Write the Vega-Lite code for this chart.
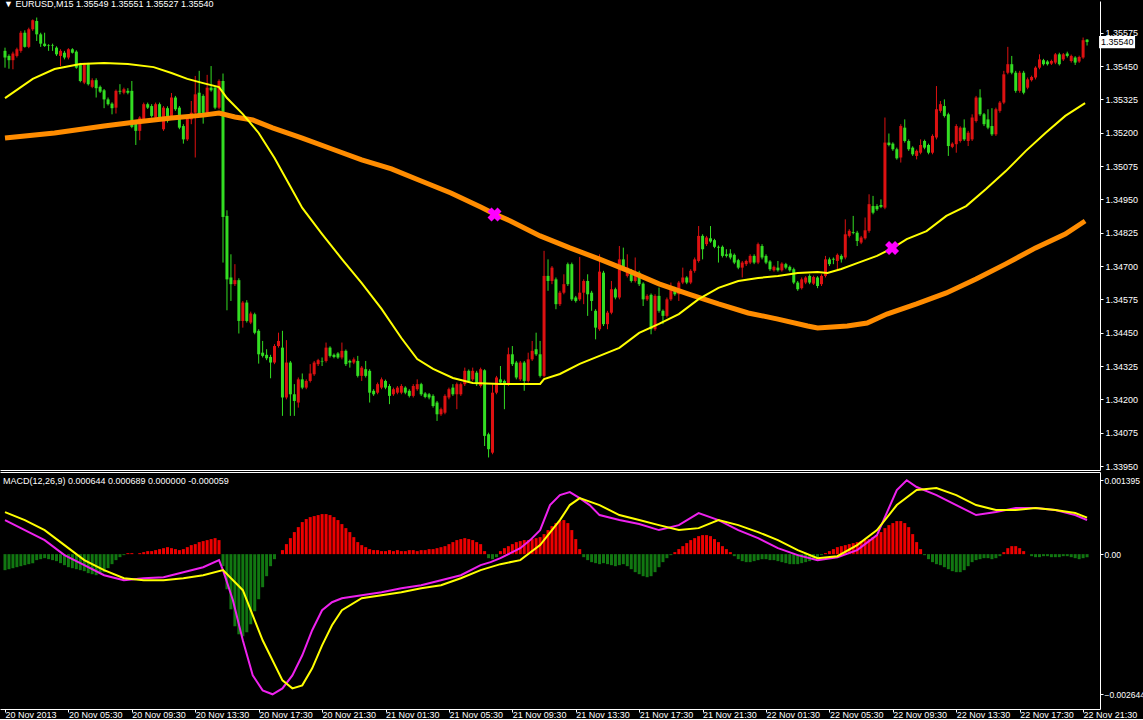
{
"$schema":"https://vega.github.io/schema/vega-lite/v6.json",
"background":"black",
"padding":0,
"spacing":0,
"config":{"view":{"stroke":null},"font":"Liberation Sans","axis":{"labelColor":"white","domainColor":"white","tickColor":"white","labelFont":"Liberation Sans","labelFontSize":9,"grid":false,"title":null,"labelOverlap":false,"labelFlush":false}},
"datasets":{
"c":[
{"i":0,"o":1.35507,"h":1.35519,"l":1.35444,"c":1.35482},{"i":1,"o":1.35488,"h":1.35494,"l":1.3544,"c":1.35472},{"i":2,"o":1.35472,"h":1.35504,"l":1.35438,"c":1.35497},{"i":3,"o":1.35488,"h":1.35519,"l":1.35482,"c":1.35513},{"i":4,"o":1.35507,"h":1.35582,"l":1.355,"c":1.35575},{"i":5,"o":1.35575,"h":1.35584,"l":1.35519,"c":1.35522},{"i":6,"o":1.35522,"h":1.35594,"l":1.35517,"c":1.35588},{"i":7,"o":1.35588,"h":1.35625,"l":1.35582,"c":1.35622},{"i":8,"o":1.35619,"h":1.35632,"l":1.35544,"c":1.35569},{"i":9,"o":1.35569,"h":1.35575,"l":1.35522,"c":1.35534},
{"i":10,"o":1.35534,"h":1.35575,"l":1.35522,"c":1.35525},{"i":11,"o":1.35529,"h":1.35532,"l":1.35507,"c":1.35527},{"i":12,"o":1.35529,"h":1.35534,"l":1.35507,"c":1.35527},{"i":13,"o":1.35519,"h":1.35524,"l":1.35488,"c":1.35494},{"i":14,"o":1.35488,"h":1.35513,"l":1.3545,"c":1.35507},{"i":15,"o":1.355,"h":1.35507,"l":1.35475,"c":1.35482},{"i":16,"o":1.35482,"h":1.35517,"l":1.35475,"c":1.35513},{"i":17,"o":1.35513,"h":1.35517,"l":1.35497,"c":1.355},{"i":18,"o":1.35504,"h":1.35509,"l":1.3544,"c":1.35444},{"i":19,"o":1.35457,"h":1.35462,"l":1.35389,"c":1.35394},
{"i":20,"o":1.35388,"h":1.35462,"l":1.35382,"c":1.35457},{"i":21,"o":1.35457,"h":1.35462,"l":1.35377,"c":1.35382},{"i":22,"o":1.35372,"h":1.35404,"l":1.35367,"c":1.35397},{"i":23,"o":1.35397,"h":1.35404,"l":1.35332,"c":1.35367},{"i":24,"o":1.35372,"h":1.35377,"l":1.35349,"c":1.35354},{"i":25,"o":1.35359,"h":1.35364,"l":1.35292,"c":1.35325},{"i":26,"o":1.35325,"h":1.35332,"l":1.35302,"c":1.35307},{"i":27,"o":1.35309,"h":1.35314,"l":1.35269,"c":1.35292},{"i":28,"o":1.35294,"h":1.35362,"l":1.35272,"c":1.35357},{"i":29,"o":1.35357,"h":1.35382,"l":1.35344,"c":1.35354},
{"i":30,"o":1.3535,"h":1.35369,"l":1.35344,"c":1.35363},{"i":31,"o":1.35357,"h":1.35367,"l":1.35344,"c":1.3535},{"i":32,"o":1.35357,"h":1.35394,"l":1.35217,"c":1.35222},{"i":33,"o":1.35234,"h":1.35239,"l":1.35154,"c":1.35207},{"i":34,"o":1.35207,"h":1.35262,"l":1.35172,"c":1.35257},{"i":35,"o":1.35244,"h":1.35313,"l":1.35239,"c":1.35307},{"i":36,"o":1.35307,"h":1.35313,"l":1.35289,"c":1.35294},{"i":37,"o":1.353,"h":1.35307,"l":1.35257,"c":1.35263},{"i":38,"o":1.35257,"h":1.35313,"l":1.3525,"c":1.35307},{"i":39,"o":1.35307,"h":1.35313,"l":1.35244,"c":1.3525},
{"i":40,"o":1.35213,"h":1.353,"l":1.35207,"c":1.35294},{"i":41,"o":1.35292,"h":1.35299,"l":1.35238,"c":1.35244},{"i":42,"o":1.35263,"h":1.35349,"l":1.35257,"c":1.35332},{"i":43,"o":1.35332,"h":1.35338,"l":1.35282,"c":1.35288},{"i":44,"o":1.35294,"h":1.353,"l":1.35213,"c":1.35219},{"i":45,"o":1.35225,"h":1.35232,"l":1.35159,"c":1.35175},{"i":46,"o":1.35175,"h":1.35263,"l":1.35169,"c":1.35257},{"i":47,"o":1.3525,"h":1.35319,"l":1.35232,"c":1.35275},{"i":48,"o":1.35275,"h":1.35413,"l":1.35107,"c":1.35344},{"i":49,"o":1.3535,"h":1.35432,"l":1.35263,"c":1.35269},
{"i":50,"o":1.35338,"h":1.35344,"l":1.35234,"c":1.35269},{"i":51,"o":1.35269,"h":1.35417,"l":1.35263,"c":1.35369},{"i":52,"o":1.35369,"h":1.3545,"l":1.35354,"c":1.35359},{"i":53,"o":1.35369,"h":1.35375,"l":1.35288,"c":1.35294},{"i":54,"o":1.35294,"h":1.354,"l":1.35288,"c":1.35394},{"i":55,"o":1.35394,"h":1.35422,"l":1.34713,"c":1.34884},{"i":56,"o":1.34888,"h":1.34909,"l":1.34534,"c":1.3465},{"i":57,"o":1.34657,"h":1.34744,"l":1.34569,"c":1.34632},{"i":58,"o":1.34632,"h":1.34707,"l":1.34625,"c":1.34647},{"i":59,"o":1.34647,"h":1.34654,"l":1.34447,"c":1.34494},
{"i":60,"o":1.34494,"h":1.34569,"l":1.34469,"c":1.34563},{"i":61,"o":1.34563,"h":1.34572,"l":1.34488,"c":1.34494},{"i":62,"o":1.34488,"h":1.34529,"l":1.34482,"c":1.34522},{"i":63,"o":1.34519,"h":1.34525,"l":1.34444,"c":1.3445},{"i":64,"o":1.34457,"h":1.34463,"l":1.34334,"c":1.34369},{"i":65,"o":1.34375,"h":1.34419,"l":1.34357,"c":1.34363},{"i":66,"o":1.34367,"h":1.34388,"l":1.34347,"c":1.34354},{"i":67,"o":1.34359,"h":1.34367,"l":1.34279,"c":1.34338},{"i":68,"o":1.34338,"h":1.34407,"l":1.34332,"c":1.344},{"i":69,"o":1.344,"h":1.3445,"l":1.34394,"c":1.34419},
{"i":70,"o":1.34394,"h":1.34457,"l":1.34138,"c":1.34207},{"i":71,"o":1.34207,"h":1.34422,"l":1.342,"c":1.34338},{"i":72,"o":1.34338,"h":1.34344,"l":1.34138,"c":1.34219},{"i":73,"o":1.34219,"h":1.34257,"l":1.34138,"c":1.34194},{"i":74,"o":1.34188,"h":1.34282,"l":1.34169,"c":1.34275},{"i":75,"o":1.34275,"h":1.34297,"l":1.34238,"c":1.34244},{"i":76,"o":1.34244,"h":1.34275,"l":1.34238,"c":1.34269},{"i":77,"o":1.34269,"h":1.34332,"l":1.34263,"c":1.34297},{"i":78,"o":1.34294,"h":1.34344,"l":1.34288,"c":1.34338},{"i":79,"o":1.34332,"h":1.34352,"l":1.34325,"c":1.34347},
{"i":80,"o":1.34344,"h":1.34357,"l":1.34325,"c":1.34342},{"i":81,"o":1.34344,"h":1.34413,"l":1.34338,"c":1.34394},{"i":82,"o":1.34394,"h":1.34399,"l":1.34357,"c":1.34363},{"i":83,"o":1.34367,"h":1.34372,"l":1.34354,"c":1.34359},{"i":84,"o":1.34372,"h":1.34377,"l":1.34352,"c":1.34357},{"i":85,"o":1.34357,"h":1.34413,"l":1.3435,"c":1.34382},{"i":86,"o":1.34382,"h":1.34387,"l":1.34325,"c":1.34332},{"i":87,"o":1.34344,"h":1.34349,"l":1.34319,"c":1.34338},{"i":88,"o":1.34338,"h":1.34357,"l":1.34332,"c":1.3435},{"i":89,"o":1.34344,"h":1.34363,"l":1.34282,"c":1.34288},
{"i":90,"o":1.34288,"h":1.34325,"l":1.34269,"c":1.34319},{"i":91,"o":1.34313,"h":1.34344,"l":1.34282,"c":1.34288},{"i":92,"o":1.34307,"h":1.34313,"l":1.34188,"c":1.34225},{"i":93,"o":1.34232,"h":1.34238,"l":1.34213,"c":1.34219},{"i":94,"o":1.34225,"h":1.34263,"l":1.34219,"c":1.34257},{"i":95,"o":1.34244,"h":1.34282,"l":1.34238,"c":1.34275},{"i":96,"o":1.34269,"h":1.34274,"l":1.34238,"c":1.34244},{"i":97,"o":1.3425,"h":1.34257,"l":1.34182,"c":1.34213},{"i":98,"o":1.34219,"h":1.34244,"l":1.34213,"c":1.34238},{"i":99,"o":1.34225,"h":1.3425,"l":1.34219,"c":1.34244},
{"i":100,"o":1.34225,"h":1.34257,"l":1.34219,"c":1.3425},{"i":101,"o":1.34244,"h":1.34249,"l":1.34219,"c":1.34225},{"i":102,"o":1.34232,"h":1.34238,"l":1.34207,"c":1.34213},{"i":103,"o":1.34213,"h":1.34257,"l":1.34207,"c":1.3425},{"i":104,"o":1.34238,"h":1.34275,"l":1.34232,"c":1.34257},{"i":105,"o":1.34257,"h":1.34262,"l":1.34213,"c":1.34219},{"i":106,"o":1.34222,"h":1.34227,"l":1.34204,"c":1.34209},{"i":107,"o":1.34219,"h":1.34224,"l":1.342,"c":1.34207},{"i":108,"o":1.34213,"h":1.34219,"l":1.34169,"c":1.34175},{"i":109,"o":1.34188,"h":1.34194,"l":1.34119,"c":1.34144},
{"i":110,"o":1.34144,"h":1.34169,"l":1.34138,"c":1.34163},{"i":111,"o":1.3415,"h":1.34219,"l":1.34144,"c":1.34213},{"i":112,"o":1.34207,"h":1.34244,"l":1.342,"c":1.34238},{"i":113,"o":1.34244,"h":1.34257,"l":1.34213,"c":1.34219},{"i":114,"o":1.34219,"h":1.34263,"l":1.34163,"c":1.34257},{"i":115,"o":1.34219,"h":1.34263,"l":1.34213,"c":1.34257},{"i":116,"o":1.34257,"h":1.34319,"l":1.3425,"c":1.34307},{"i":117,"o":1.34307,"h":1.34312,"l":1.34263,"c":1.34269},{"i":118,"o":1.34275,"h":1.34319,"l":1.34269,"c":1.34307},{"i":119,"o":1.343,"h":1.34307,"l":1.3425,"c":1.34257},
{"i":120,"o":1.3425,"h":1.34319,"l":1.34244,"c":1.34313},{"i":121,"o":1.34309,"h":1.34313,"l":1.34025,"c":1.34063},{"i":122,"o":1.34069,"h":1.34075,"l":1.33982,"c":1.34013},{"i":123,"o":1.34,"h":1.34257,"l":1.33994,"c":1.34225},{"i":124,"o":1.34225,"h":1.34288,"l":1.34219,"c":1.34282},{"i":125,"o":1.34275,"h":1.34325,"l":1.34257,"c":1.34263},{"i":126,"o":1.34269,"h":1.34274,"l":1.34163,"c":1.34257},{"i":127,"o":1.34257,"h":1.34394,"l":1.3425,"c":1.34369},{"i":128,"o":1.34369,"h":1.344,"l":1.34325,"c":1.34332},{"i":129,"o":1.34338,"h":1.34344,"l":1.34275,"c":1.34282},
{"i":130,"o":1.34275,"h":1.34344,"l":1.34269,"c":1.34338},{"i":131,"o":1.34338,"h":1.34344,"l":1.34232,"c":1.34269},{"i":132,"o":1.34269,"h":1.34375,"l":1.34263,"c":1.3435},{"i":133,"o":1.3435,"h":1.34419,"l":1.34344,"c":1.34382},{"i":134,"o":1.34388,"h":1.3445,"l":1.34363,"c":1.34369},{"i":135,"o":1.34369,"h":1.34419,"l":1.34282,"c":1.34288},{"i":136,"o":1.34288,"h":1.34757,"l":1.34282,"c":1.34663},{"i":137,"o":1.34663,"h":1.34725,"l":1.34607,"c":1.34644},{"i":138,"o":1.34644,"h":1.347,"l":1.34632,"c":1.34694},{"i":139,"o":1.3465,"h":1.34657,"l":1.34538,"c":1.34557},
{"i":140,"o":1.34557,"h":1.34607,"l":1.3455,"c":1.346},{"i":141,"o":1.346,"h":1.34669,"l":1.34594,"c":1.34632},{"i":142,"o":1.34707,"h":1.34713,"l":1.34625,"c":1.34632},{"i":143,"o":1.34707,"h":1.34713,"l":1.34569,"c":1.34575},{"i":144,"o":1.34582,"h":1.34588,"l":1.34563,"c":1.34569},{"i":145,"o":1.34575,"h":1.34734,"l":1.34569,"c":1.346},{"i":146,"o":1.346,"h":1.3465,"l":1.34557,"c":1.34644},{"i":147,"o":1.34644,"h":1.34669,"l":1.34513,"c":1.34594},{"i":148,"o":1.346,"h":1.34607,"l":1.34532,"c":1.34569},{"i":149,"o":1.34532,"h":1.34538,"l":1.34425,"c":1.34469},
{"i":150,"o":1.34463,"h":1.34744,"l":1.34457,"c":1.34679},{"i":151,"o":1.34675,"h":1.34682,"l":1.34475,"c":1.34482},{"i":152,"o":1.34482,"h":1.34532,"l":1.34463,"c":1.34525},{"i":153,"o":1.34525,"h":1.34644,"l":1.34519,"c":1.34613},{"i":154,"o":1.34613,"h":1.34619,"l":1.34575,"c":1.34582},{"i":155,"o":1.34582,"h":1.34775,"l":1.34575,"c":1.34725},{"i":156,"o":1.34725,"h":1.34769,"l":1.34688,"c":1.34694},{"i":157,"o":1.34663,"h":1.34744,"l":1.34657,"c":1.34694},{"i":158,"o":1.34684,"h":1.34689,"l":1.34638,"c":1.34644},{"i":159,"o":1.34644,"h":1.34732,"l":1.34638,"c":1.34675},
{"i":160,"o":1.34675,"h":1.34682,"l":1.34625,"c":1.34632},{"i":161,"o":1.34634,"h":1.34639,"l":1.3455,"c":1.34575},{"i":162,"o":1.34575,"h":1.34594,"l":1.34569,"c":1.34588},{"i":163,"o":1.34592,"h":1.34597,"l":1.34444,"c":1.34463},{"i":164,"o":1.34463,"h":1.34594,"l":1.34457,"c":1.34588},{"i":165,"o":1.34588,"h":1.34619,"l":1.34525,"c":1.34532},{"i":166,"o":1.34532,"h":1.34537,"l":1.34482,"c":1.34513},{"i":167,"o":1.34513,"h":1.34582,"l":1.34507,"c":1.34575},{"i":168,"o":1.34575,"h":1.34638,"l":1.34569,"c":1.34617},{"i":169,"o":1.34617,"h":1.34622,"l":1.34588,"c":1.34594},
{"i":170,"o":1.34594,"h":1.34644,"l":1.34569,"c":1.34638},{"i":171,"o":1.34638,"h":1.34694,"l":1.34632,"c":1.34657},{"i":172,"o":1.34657,"h":1.34662,"l":1.34632,"c":1.34638},{"i":173,"o":1.34638,"h":1.34688,"l":1.34632,"c":1.34682},{"i":174,"o":1.34682,"h":1.34732,"l":1.34675,"c":1.34725},{"i":175,"o":1.34719,"h":1.3485,"l":1.34713,"c":1.34813},{"i":176,"o":1.34813,"h":1.34819,"l":1.34725,"c":1.34763},{"i":177,"o":1.34782,"h":1.34813,"l":1.34775,"c":1.34807},{"i":178,"o":1.34804,"h":1.3485,"l":1.34787,"c":1.34792},{"i":179,"o":1.34797,"h":1.34802,"l":1.34767,"c":1.34772},
{"i":180,"o":1.34772,"h":1.34777,"l":1.34713,"c":1.34769},{"i":181,"o":1.34772,"h":1.34777,"l":1.34732,"c":1.34738},{"i":182,"o":1.34744,"h":1.34763,"l":1.34732,"c":1.34738},{"i":183,"o":1.34747,"h":1.34763,"l":1.34725,"c":1.34732},{"i":184,"o":1.34742,"h":1.34747,"l":1.34707,"c":1.34713},{"i":185,"o":1.34722,"h":1.34727,"l":1.34688,"c":1.34694},{"i":186,"o":1.34694,"h":1.34719,"l":1.34657,"c":1.34713},{"i":187,"o":1.34707,"h":1.34724,"l":1.347,"c":1.34719},{"i":188,"o":1.34713,"h":1.34744,"l":1.34707,"c":1.34738},{"i":189,"o":1.34738,"h":1.34744,"l":1.34707,"c":1.34713},
{"i":190,"o":1.34713,"h":1.34788,"l":1.34707,"c":1.34782},{"i":191,"o":1.34775,"h":1.34782,"l":1.34725,"c":1.34732},{"i":192,"o":1.34738,"h":1.34744,"l":1.34707,"c":1.34713},{"i":193,"o":1.34717,"h":1.34722,"l":1.34682,"c":1.34688},{"i":194,"o":1.34684,"h":1.34702,"l":1.34679,"c":1.34697},{"i":195,"o":1.34694,"h":1.34719,"l":1.34679,"c":1.34684},{"i":196,"o":1.34684,"h":1.34714,"l":1.34679,"c":1.34709},{"i":197,"o":1.34707,"h":1.34712,"l":1.34688,"c":1.34694},{"i":198,"o":1.34697,"h":1.34702,"l":1.34679,"c":1.34684},{"i":199,"o":1.34688,"h":1.34694,"l":1.34632,"c":1.34638},
{"i":200,"o":1.34638,"h":1.34644,"l":1.34607,"c":1.34613},{"i":201,"o":1.34617,"h":1.34657,"l":1.34612,"c":1.3465},{"i":202,"o":1.34638,"h":1.34662,"l":1.34632,"c":1.34657},{"i":203,"o":1.34663,"h":1.34669,"l":1.34632,"c":1.34638},{"i":204,"o":1.34634,"h":1.34664,"l":1.34629,"c":1.34659},{"i":205,"o":1.34657,"h":1.34662,"l":1.34617,"c":1.34625},{"i":206,"o":1.34632,"h":1.34669,"l":1.34625,"c":1.34663},{"i":207,"o":1.34663,"h":1.34738,"l":1.34657,"c":1.34725},{"i":208,"o":1.34725,"h":1.34732,"l":1.347,"c":1.34707},{"i":209,"o":1.34727,"h":1.34732,"l":1.34707,"c":1.34724},
{"i":210,"o":1.34719,"h":1.34747,"l":1.34688,"c":1.34742},{"i":211,"o":1.34738,"h":1.34744,"l":1.34713,"c":1.34725},{"i":212,"o":1.34732,"h":1.34875,"l":1.34725,"c":1.34819},{"i":213,"o":1.34813,"h":1.34838,"l":1.34807,"c":1.34832},{"i":214,"o":1.34827,"h":1.34888,"l":1.34819,"c":1.34824},{"i":215,"o":1.34825,"h":1.34832,"l":1.34775,"c":1.34794},{"i":216,"o":1.34788,"h":1.34813,"l":1.34782,"c":1.34807},{"i":217,"o":1.34804,"h":1.34882,"l":1.34799,"c":1.34834},{"i":218,"o":1.34832,"h":1.34969,"l":1.34825,"c":1.34932},{"i":219,"o":1.34925,"h":1.34963,"l":1.34894,"c":1.349},
{"i":220,"o":1.34925,"h":1.34932,"l":1.34907,"c":1.34913},{"i":221,"o":1.34929,"h":1.3495,"l":1.34917,"c":1.34922},{"i":222,"o":1.34919,"h":1.35257,"l":1.34913,"c":1.35163},{"i":223,"o":1.35163,"h":1.35197,"l":1.35149,"c":1.35154},{"i":224,"o":1.35159,"h":1.35164,"l":1.35132,"c":1.35138},{"i":225,"o":1.35138,"h":1.35144,"l":1.35099,"c":1.35104},{"i":226,"o":1.35107,"h":1.35232,"l":1.35088,"c":1.35225},{"i":227,"o":1.35219,"h":1.3525,"l":1.35163,"c":1.35169},{"i":228,"o":1.35169,"h":1.35175,"l":1.35132,"c":1.35138},{"i":229,"o":1.35144,"h":1.35149,"l":1.35113,"c":1.35119},
{"i":230,"o":1.35113,"h":1.35137,"l":1.351,"c":1.35132},{"i":231,"o":1.35125,"h":1.35175,"l":1.35119,"c":1.35154},{"i":232,"o":1.35169,"h":1.35174,"l":1.35138,"c":1.35144},{"i":233,"o":1.35154,"h":1.35159,"l":1.35119,"c":1.35125},{"i":234,"o":1.35125,"h":1.35194,"l":1.35119,"c":1.35188},{"i":235,"o":1.35182,"h":1.35375,"l":1.35175,"c":1.35288},{"i":236,"o":1.35282,"h":1.35319,"l":1.35275,"c":1.35307},{"i":237,"o":1.353,"h":1.35325,"l":1.35257,"c":1.35263},{"i":238,"o":1.35269,"h":1.35275,"l":1.35113,"c":1.3515},{"i":239,"o":1.35147,"h":1.35164,"l":1.35142,"c":1.35159},
{"i":240,"o":1.35157,"h":1.35232,"l":1.35125,"c":1.35225},{"i":241,"o":1.35169,"h":1.35224,"l":1.35163,"c":1.35219},{"i":242,"o":1.35219,"h":1.3525,"l":1.35169,"c":1.35175},{"i":243,"o":1.35169,"h":1.35207,"l":1.3515,"c":1.352},{"i":244,"o":1.35175,"h":1.35269,"l":1.35169,"c":1.35257},{"i":245,"o":1.35244,"h":1.35338,"l":1.35238,"c":1.35332},{"i":246,"o":1.35332,"h":1.35363,"l":1.35263,"c":1.35269},{"i":247,"o":1.35269,"h":1.35274,"l":1.35225,"c":1.35232},{"i":248,"o":1.3525,"h":1.35288,"l":1.35213,"c":1.35219},{"i":249,"o":1.35225,"h":1.35292,"l":1.35188,"c":1.35194},
{"i":250,"o":1.35194,"h":1.35294,"l":1.35188,"c":1.35288},{"i":251,"o":1.35282,"h":1.35319,"l":1.35275,"c":1.35313},{"i":252,"o":1.35313,"h":1.35432,"l":1.35307,"c":1.35419},{"i":253,"o":1.35425,"h":1.35522,"l":1.35419,"c":1.35457},{"i":254,"o":1.35457,"h":1.35488,"l":1.35419,"c":1.35425},{"i":255,"o":1.35425,"h":1.35432,"l":1.3535,"c":1.35357},{"i":256,"o":1.35357,"h":1.35432,"l":1.3535,"c":1.35425},{"i":257,"o":1.35425,"h":1.35432,"l":1.35344,"c":1.3535},{"i":258,"o":1.35369,"h":1.35407,"l":1.35363,"c":1.354},{"i":259,"o":1.35397,"h":1.35414,"l":1.35392,"c":1.35409},
{"i":260,"o":1.35407,"h":1.35449,"l":1.354,"c":1.35444},{"i":261,"o":1.35444,"h":1.35494,"l":1.35438,"c":1.35475},{"i":262,"o":1.35472,"h":1.35477,"l":1.35452,"c":1.35457},{"i":263,"o":1.35467,"h":1.35472,"l":1.35452,"c":1.35457},{"i":264,"o":1.35459,"h":1.35474,"l":1.35454,"c":1.35469},{"i":265,"o":1.35463,"h":1.35499,"l":1.35457,"c":1.35494},{"i":266,"o":1.35494,"h":1.355,"l":1.35452,"c":1.35457},{"i":267,"o":1.35475,"h":1.35499,"l":1.35469,"c":1.35494},{"i":268,"o":1.35497,"h":1.35504,"l":1.35482,"c":1.35488},{"i":269,"o":1.35469,"h":1.35493,"l":1.35463,"c":1.35488},
{"i":270,"o":1.35482,"h":1.35487,"l":1.35454,"c":1.35463},{"i":271,"o":1.35467,"h":1.35489,"l":1.35462,"c":1.35484},{"i":272,"o":1.35482,"h":1.35557,"l":1.35477,"c":1.35547},{"i":273,"o":1.35549,"h":1.35551,"l":1.35527,"c":1.3554}
],
"fast":[{"i":0,"v":1.3533},{"i":7,"v":1.35402},{"i":12.5,"v":1.35439},{"i":19,"v":1.35458},{"i":25,"v":1.35461},{"i":31,"v":1.35458},{"i":37.5,"v":1.35446},{"i":42,"v":1.35424},{"i":46,"v":1.35402},{"i":50,"v":1.35386},{"i":54,"v":1.35371},{"i":56,"v":1.3533},{"i":60,"v":1.3527},{"i":64,"v":1.35199},{"i":68,"v":1.35105},{"i":75,"v":1.34918},{"i":80,"v":1.3482},{"i":85,"v":1.34726},{"i":90,"v":1.34636},{"i":95,"v":1.34539},{"i":100,"v":1.3443},{"i":104,"v":1.34351},{"i":108,"v":1.34314},{"i":113,"v":1.3428},{"i":118,"v":1.34261},{"i":125,"v":1.34258},{"i":135,"v":1.34258},{"i":136,"v":1.34276},{"i":140,"v":1.34295},{"i":145,"v":1.34333},{"i":150,"v":1.34363},{"i":155,"v":1.34393},{"i":160,"v":1.34449},{"i":165,"v":1.34483},{"i":170,"v":1.3452},{"i":175,"v":1.34576},{"i":180,"v":1.34618},{"i":185,"v":1.34644},{"i":190,"v":1.34655},{"i":195,"v":1.34663},{"i":200,"v":1.34674},{"i":205,"v":1.34678},{"i":207.5,"v":1.34674},{"i":211,"v":1.34689},{"i":215,"v":1.34711},{"i":220,"v":1.34738},{"i":224,"v":1.34768},{"i":227.5,"v":1.34801},{"i":232.5,"v":1.34831},{"i":237.5,"v":1.34888},{"i":242.5,"v":1.34925},{"i":247.5,"v":1.34989},{"i":252.5,"v":1.35056},{"i":257.5,"v":1.35131},{"i":262.5,"v":1.35199},{"i":267.5,"v":1.35263},{"i":272.5,"v":1.35311}],
"slow":[{"i":0,"v":1.3518},{"i":12.5,"v":1.35199},{"i":25,"v":1.35225},{"i":33,"v":1.3524},{"i":42,"v":1.35255},{"i":50,"v":1.35266},{"i":54,"v":1.35274},{"i":58,"v":1.35259},{"i":62.5,"v":1.35248},{"i":67.5,"v":1.35218},{"i":75,"v":1.3518},{"i":82.5,"v":1.35139},{"i":90,"v":1.35098},{"i":97.5,"v":1.35064},{"i":105,"v":1.35019},{"i":112.5,"v":1.34974},{"i":120,"v":1.34921},{"i":123.5,"v":1.34895},{"i":127.5,"v":1.34869},{"i":135,"v":1.34813},{"i":142.5,"v":1.34768},{"i":150,"v":1.34726},{"i":157.5,"v":1.34681},{"i":165,"v":1.34633},{"i":172.5,"v":1.34595},{"i":180,"v":1.34558},{"i":187.5,"v":1.34524},{"i":195,"v":1.34501},{"i":202.5,"v":1.34475},{"i":205,"v":1.34468},{"i":212.5,"v":1.34475},{"i":217.5,"v":1.34486},{"i":222.5,"v":1.3452},{"i":230,"v":1.34558},{"i":237.5,"v":1.34599},{"i":245,"v":1.34651},{"i":252.5,"v":1.34708},{"i":260,"v":1.34768},{"i":267.5,"v":1.3482},{"i":272.5,"v":1.34869}],
"mk":[{"i":123.5,"p":1.34893},{"i":223.8,"p":1.34768}],
"last":[{"i":273,"p":1.3554,"t":"1.35540"}],
"hist":[
{"i":0,"h":-0.000302},{"i":1,"h":-0.000284},{"i":2,"h":-0.000265},{"i":3,"h":-0.000246},{"i":4,"h":-0.000227},{"i":5,"h":-0.000208},{"i":6,"h":-0.000189},{"i":7,"h":-0.00017},{"i":8,"h":-0.000113},{"i":9,"h":-0.000095},
{"i":10,"h":-0.000076},{"i":11,"h":-0.000095},{"i":12,"h":-0.000113},{"i":13,"h":-0.000132},{"i":14,"h":-0.00017},{"i":15,"h":-0.000208},{"i":16,"h":-0.000246},{"i":17,"h":-0.000265},{"i":18,"h":-0.000284},{"i":19,"h":-0.000302},
{"i":20,"h":-0.000321},{"i":21,"h":-0.000359},{"i":22,"h":-0.000378},{"i":23,"h":-0.000397},{"i":24,"h":-0.000378},{"i":25,"h":-0.00034},{"i":26,"h":-0.000265},{"i":27,"h":-0.000189},{"i":28,"h":-0.000113},{"i":29,"h":-0.000057},
{"i":30,"h":-0.000019},{"i":31,"h":0.000019},{"i":32,"h":0.000019},{"i":33,"h":0},{"i":34,"h":0.000019},{"i":35,"h":0.000038},{"i":36,"h":0.000057},{"i":37,"h":0.000057},{"i":38,"h":0.000076},{"i":39,"h":0.000095},
{"i":40,"h":0.000113},{"i":41,"h":0.000132},{"i":42,"h":0.000113},{"i":43,"h":0.000095},{"i":44,"h":0.000076},{"i":45,"h":0.000095},{"i":46,"h":0.000132},{"i":47,"h":0.00017},{"i":48,"h":0.000189},{"i":49,"h":0.000227},
{"i":50,"h":0.000246},{"i":51,"h":0.000265},{"i":52,"h":0.000284},{"i":53,"h":0.000302},{"i":54,"h":0.000265},{"i":55,"h":-0.000227},{"i":56,"h":-0.000662},{"i":57,"h":-0.00104},{"i":58,"h":-0.001361},{"i":59,"h":-0.001512},
{"i":60,"h":-0.00155},{"i":61,"h":-0.001474},{"i":62,"h":-0.001323},{"i":63,"h":-0.001077},{"i":64,"h":-0.000851},{"i":65,"h":-0.000624},{"i":66,"h":-0.000416},{"i":67,"h":-0.000227},{"i":68,"h":-0.000095},{"i":69,"h":0},
{"i":70,"h":0.000076},{"i":71,"h":0.000189},{"i":72,"h":0.000302},{"i":73,"h":0.000416},{"i":74,"h":0.00051},{"i":75,"h":0.000605},{"i":76,"h":0.000662},{"i":77,"h":0.000699},{"i":78,"h":0.000718},{"i":79,"h":0.000737},
{"i":80,"h":0.000756},{"i":81,"h":0.000756},{"i":82,"h":0.000737},{"i":83,"h":0.000699},{"i":84,"h":0.000643},{"i":85,"h":0.000567},{"i":86,"h":0.000491},{"i":87,"h":0.000416},{"i":88,"h":0.000321},{"i":89,"h":0.000227},
{"i":90,"h":0.00017},{"i":91,"h":0.000132},{"i":92,"h":0.000095},{"i":93,"h":0.000076},{"i":94,"h":0.000076},{"i":95,"h":0.000057},{"i":96,"h":0.000057},{"i":97,"h":0.000076},{"i":98,"h":0.000057},{"i":99,"h":0.000076},
{"i":100,"h":0.000057},{"i":101,"h":0.000057},{"i":102,"h":0.000076},{"i":103,"h":0.000076},{"i":104,"h":0.000057},{"i":105,"h":0.000076},{"i":106,"h":0.000076},{"i":107,"h":0.000095},{"i":108,"h":0.000095},{"i":109,"h":0.000113},
{"i":110,"h":0.000132},{"i":111,"h":0.000151},{"i":112,"h":0.000189},{"i":113,"h":0.000227},{"i":114,"h":0.000265},{"i":115,"h":0.000284},{"i":116,"h":0.000302},{"i":117,"h":0.000284},{"i":118,"h":0.000265},{"i":119,"h":0.000227},
{"i":120,"h":0.000189},{"i":121,"h":0.000057},{"i":122,"h":-0.000076},{"i":123,"h":-0.000095},{"i":124,"h":-0.000057},{"i":125,"h":0.000057},{"i":126,"h":0.000113},{"i":127,"h":0.000151},{"i":128,"h":0.000189},{"i":129,"h":0.000227},
{"i":130,"h":0.000246},{"i":131,"h":0.000265},{"i":132,"h":0.000265},{"i":133,"h":0.000284},{"i":134,"h":0.000302},{"i":135,"h":0.000321},{"i":136,"h":0.000378},{"i":137,"h":0.000454},{"i":138,"h":0.000529},{"i":139,"h":0.000586},
{"i":140,"h":0.000624},{"i":141,"h":0.000643},{"i":142,"h":0.000586},{"i":143,"h":0.000454},{"i":144,"h":0.000284},{"i":145,"h":0.000095},{"i":146,"h":-0.000057},{"i":147,"h":-0.000113},{"i":148,"h":-0.000151},{"i":149,"h":-0.00017},
{"i":150,"h":-0.000189},{"i":151,"h":-0.00017},{"i":152,"h":-0.000189},{"i":153,"h":-0.000208},{"i":154,"h":-0.000227},{"i":155,"h":-0.000208},{"i":156,"h":-0.000189},{"i":157,"h":-0.000227},{"i":158,"h":-0.000284},{"i":159,"h":-0.00034},
{"i":160,"h":-0.000378},{"i":161,"h":-0.000416},{"i":162,"h":-0.000435},{"i":163,"h":-0.000416},{"i":164,"h":-0.00034},{"i":165,"h":-0.000246},{"i":166,"h":-0.000151},{"i":167,"h":-0.000076},{"i":168,"h":-0.000019},{"i":169,"h":0.000038},
{"i":170,"h":0.000095},{"i":171,"h":0.000151},{"i":172,"h":0.000208},{"i":173,"h":0.000265},{"i":174,"h":0.000302},{"i":175,"h":0.00034},{"i":176,"h":0.000359},{"i":177,"h":0.000359},{"i":178,"h":0.00034},{"i":179,"h":0.000284},
{"i":180,"h":0.000227},{"i":181,"h":0.000151},{"i":182,"h":0.000095},{"i":183,"h":0.000038},{"i":184,"h":-0.000038},{"i":185,"h":-0.000095},{"i":186,"h":-0.000132},{"i":187,"h":-0.000151},{"i":188,"h":-0.000151},{"i":189,"h":-0.000132},
{"i":190,"h":-0.000113},{"i":191,"h":-0.000095},{"i":192,"h":-0.000095},{"i":193,"h":-0.000113},{"i":194,"h":-0.000113},{"i":195,"h":-0.000132},{"i":196,"h":-0.000151},{"i":197,"h":-0.00017},{"i":198,"h":-0.000189},{"i":199,"h":-0.000189},
{"i":200,"h":-0.000189},{"i":201,"h":-0.00017},{"i":202,"h":-0.000151},{"i":203,"h":-0.000132},{"i":204,"h":-0.000095},{"i":205,"h":-0.000057},{"i":206,"h":-0.000019},{"i":207,"h":0.000019},{"i":208,"h":0.000057},{"i":209,"h":0.000095},
{"i":210,"h":0.000132},{"i":211,"h":0.000151},{"i":212,"h":0.00017},{"i":213,"h":0.000189},{"i":214,"h":0.000208},{"i":215,"h":0.000227},{"i":216,"h":0.000246},{"i":217,"h":0.000265},{"i":218,"h":0.000284},{"i":219,"h":0.000321},
{"i":220,"h":0.000359},{"i":221,"h":0.000416},{"i":222,"h":0.000491},{"i":223,"h":0.000548},{"i":224,"h":0.000586},{"i":225,"h":0.000624},{"i":226,"h":0.000624},{"i":227,"h":0.000586},{"i":228,"h":0.00051},{"i":229,"h":0.000378},
{"i":230,"h":0.000227},{"i":231,"h":0.000095},{"i":232,"h":-0.000019},{"i":233,"h":-0.000095},{"i":234,"h":-0.000151},{"i":235,"h":-0.000189},{"i":236,"h":-0.000208},{"i":237,"h":-0.000246},{"i":238,"h":-0.000284},{"i":239,"h":-0.000321},
{"i":240,"h":-0.00034},{"i":241,"h":-0.00034},{"i":242,"h":-0.000302},{"i":243,"h":-0.000227},{"i":244,"h":-0.000151},{"i":245,"h":-0.000113},{"i":246,"h":-0.000095},{"i":247,"h":-0.000076},{"i":248,"h":-0.000076},{"i":249,"h":-0.000095},
{"i":250,"h":-0.000076},{"i":251,"h":-0.000038},{"i":252,"h":0.000038},{"i":253,"h":0.000113},{"i":254,"h":0.000151},{"i":255,"h":0.000151},{"i":256,"h":0.000113},{"i":257,"h":0.000057},{"i":258,"h":0},{"i":259,"h":-0.000038},
{"i":260,"h":-0.000057},{"i":261,"h":-0.000057},{"i":262,"h":-0.000038},{"i":263,"h":-0.000038},{"i":264,"h":-0.000057},{"i":265,"h":-0.000057},{"i":266,"h":-0.000057},{"i":267,"h":-0.000038},{"i":268,"h":-0.000038},{"i":269,"h":-0.000057},
{"i":270,"h":-0.000076},{"i":271,"h":-0.000095},{"i":272,"h":-0.000076},{"i":273,"h":-0.000059}
],
"mline":[{"i":0,"v":0.000643},{"i":5,"v":0.000454},{"i":10,"v":0.000265},{"i":15,"v":-0.000019},{"i":20,"v":-0.000208},{"i":25,"v":-0.000397},{"i":30,"v":-0.000491},{"i":35,"v":-0.000454},{"i":40,"v":-0.000435},{"i":45,"v":-0.00034},{"i":50,"v":-0.000246},{"i":54,"v":-0.000113},{"i":55,"v":-0.000302},{"i":57.5,"v":-0.000869},{"i":60,"v":-0.001625},{"i":62.5,"v":-0.002287},{"i":65,"v":-0.00257},{"i":67.5,"v":-0.002644},{"i":70,"v":-0.002533},{"i":72.5,"v":-0.002287},{"i":75,"v":-0.001909},{"i":77.5,"v":-0.001436},{"i":80,"v":-0.001058},{"i":82.5,"v":-0.000907},{"i":85,"v":-0.000832},{"i":90,"v":-0.000775},{"i":95,"v":-0.000718},{"i":100,"v":-0.000643},{"i":105,"v":-0.000586},{"i":110,"v":-0.000491},{"i":115,"v":-0.000397},{"i":120,"v":-0.000208},{"i":122.5,"v":-0.000151},{"i":125,"v":-0.000076},{"i":127.5,"v":0.000019},{"i":130,"v":0.000113},{"i":132.5,"v":0.000265},{"i":135,"v":0.000454},{"i":137.5,"v":0.000926},{"i":140,"v":0.001115},{"i":142.5,"v":0.001172},{"i":145,"v":0.001058},{"i":147.5,"v":0.000926},{"i":150,"v":0.000737},{"i":155,"v":0.000643},{"i":160,"v":0.000567},{"i":165,"v":0.000454},{"i":170,"v":0.000548},{"i":175,"v":0.000775},{"i":180,"v":0.000643},{"i":185,"v":0.000454},{"i":190,"v":0.000302},{"i":195,"v":0.000113},{"i":200,"v":-0.000019},{"i":205,"v":-0.000113},{"i":210,"v":-0.000057},{"i":215,"v":0.000076},{"i":220,"v":0.000359},{"i":225,"v":0.00121},{"i":227.5,"v":0.001395},{"i":230,"v":0.001266},{"i":235,"v":0.001115},{"i":240,"v":0.000926},{"i":245,"v":0.000737},{"i":250,"v":0.000794},{"i":255,"v":0.000869},{"i":260,"v":0.000869},{"i":265,"v":0.000832},{"i":270,"v":0.000737},{"i":273,"v":0.000644}],
"sline":[{"i":0,"v":0.000794},{"i":5,"v":0.000643},{"i":10,"v":0.000454},{"i":15,"v":0.00017},{"i":20,"v":-0.000113},{"i":25,"v":-0.000302},{"i":30,"v":-0.000454},{"i":35,"v":-0.000491},{"i":40,"v":-0.000491},{"i":45,"v":-0.000454},{"i":50,"v":-0.000397},{"i":55,"v":-0.000302},{"i":60,"v":-0.00068},{"i":65,"v":-0.001625},{"i":70,"v":-0.002381},{"i":72.5,"v":-0.002533},{"i":75,"v":-0.002476},{"i":77.5,"v":-0.002155},{"i":80,"v":-0.00172},{"i":82.5,"v":-0.001342},{"i":85,"v":-0.001058},{"i":90,"v":-0.000832},{"i":95,"v":-0.000775},{"i":100,"v":-0.000718},{"i":105,"v":-0.000643},{"i":110,"v":-0.000586},{"i":115,"v":-0.000454},{"i":120,"v":-0.000302},{"i":125,"v":-0.000189},{"i":130,"v":-0.000113},{"i":135,"v":0.00017},{"i":140,"v":0.000643},{"i":142.5,"v":0.000926},{"i":145,"v":0.001058},{"i":150,"v":0.000926},{"i":155,"v":0.000737},{"i":160,"v":0.000643},{"i":165,"v":0.000548},{"i":170,"v":0.000454},{"i":175,"v":0.000491},{"i":180,"v":0.000643},{"i":185,"v":0.000548},{"i":190,"v":0.000416},{"i":195,"v":0.000265},{"i":200,"v":0.000076},{"i":205,"v":-0.000076},{"i":210,"v":-0.000038},{"i":215,"v":0.00017},{"i":220,"v":0.000454},{"i":225,"v":0.000926},{"i":230,"v":0.00121},{"i":235,"v":0.001247},{"i":240,"v":0.001115},{"i":245,"v":0.000926},{"i":250,"v":0.000832},{"i":255,"v":0.000832},{"i":260,"v":0.000869},{"i":265,"v":0.000832},{"i":270,"v":0.000775},{"i":273,"v":0.000689}]
},
"vconcat":[
{
"width":1100,"height":469,
"title":{"text":"▼ EURUSD,M15  1.35549 1.35551 1.35527 1.35540","anchor":"start","orient":"top","offset":-8,"fontSize":9,"fontWeight":"normal","color":"white","font":"Liberation Sans","dx":4},
"layer":[
{"data":{"name":"c"},"mark":{"type":"rule","strokeWidth":1,"clip":true},
 "encoding":{
  "x":{"field":"i","type":"quantitative","scale":{"domain":[0,275],"nice":false,"zero":false},"axis":{"labels":false,"ticks":false,"domain":true}},
  "y":{"field":"l","type":"quantitative","title":null,"scale":{"domain":[1.33935,1.35694],"nice":false,"zero":false},"axis":{"orient":"right","values":[1.3395,1.34075,1.342,1.34325,1.3445,1.34575,1.347,1.34825,1.3495,1.35075,1.352,1.35325,1.3545,1.35575],"tickCount":30,"format":".5f","tickSize":3,"labelPadding":2,"labelOverlap":false,"labelFlush":false}},
  "y2":{"field":"h"},
  "color":{"condition":{"test":"datum.c > datum.o","value":"#dd1111"},"value":"#33dd22"}}},
{"data":{"name":"c"},"mark":{"type":"bar","width":3,"clip":true},
 "encoding":{
  "x":{"field":"i","type":"quantitative","scale":{"domain":[0,275],"nice":false,"zero":false}},
  "y":{"field":"o","type":"quantitative","title":null,"scale":{"domain":[1.33935,1.35694],"nice":false,"zero":false}},
  "y2":{"field":"c"},
  "color":{"condition":{"test":"datum.c > datum.o","value":"#dd1111"},"value":"#33dd22"}}},
{"data":{"name":"slow"},"mark":{"type":"line","color":"#ff8c00","strokeWidth":5,"clip":true},
 "encoding":{"x":{"field":"i","type":"quantitative","scale":{"domain":[0,275],"nice":false,"zero":false}},"y":{"field":"v","type":"quantitative","title":null,"scale":{"domain":[1.33935,1.35694],"nice":false,"zero":false}}}},
{"data":{"name":"fast"},"mark":{"type":"line","color":"#ffff00","strokeWidth":2,"clip":true},
 "encoding":{"x":{"field":"i","type":"quantitative","scale":{"domain":[0,275],"nice":false,"zero":false}},"y":{"field":"v","type":"quantitative","title":null,"scale":{"domain":[1.33935,1.35694],"nice":false,"zero":false}}}},
{"data":{"name":"mk"},"mark":{"type":"point","shape":"cross","angle":45,"filled":true,"color":"#ff00ff","size":200,"opacity":1},
 "encoding":{"x":{"field":"i","type":"quantitative","scale":{"domain":[0,275],"nice":false,"zero":false}},"y":{"field":"p","type":"quantitative","title":null,"scale":{"domain":[1.33935,1.35694],"nice":false,"zero":false}}}},
{"data":{"name":"last"},"mark":{"type":"point","shape":"M0.333,-0.17L1.333,-0.17L1.333,0.17L0.333,0.17Z","filled":true,"color":"white","size":5184,"opacity":1},
 "encoding":{"x":{"field":"i","type":"quantitative","scale":{"domain":[0,275],"nice":false,"zero":false}},"y":{"field":"p","type":"quantitative","title":null,"scale":{"domain":[1.33935,1.35694],"nice":false,"zero":false}}}},
{"data":{"name":"last"},"mark":{"type":"text","color":"black","fontSize":9,"font":"Liberation Sans","align":"left","baseline":"middle","dx":14},
 "encoding":{"x":{"field":"i","type":"quantitative","scale":{"domain":[0,275],"nice":false,"zero":false}},"y":{"field":"p","type":"quantitative","title":null,"scale":{"domain":[1.33935,1.35694],"nice":false,"zero":false}},"text":{"field":"t"}}}
]
},
{
"width":1100,"height":237,
"title":{"text":"MACD(12,26,9) 0.000644 0.000689 0.000000 -0.000059","anchor":"start","orient":"top","offset":-14,"fontSize":9,"fontWeight":"normal","color":"white","font":"Liberation Sans","dx":3},
"layer":[
{"data":{"name":"hist"},"mark":{"type":"bar","width":3,"clip":true},
 "encoding":{
  "x":{"field":"i","type":"quantitative","scale":{"domain":[0,275],"nice":false,"zero":false},"axis":{"orient":"bottom","values":[0,16,32,48,64,80,96,112,128,144,160,176,192,208,224,240,256,272],"tickCount":40,"labelExpr":"['20 Nov 2013','20 Nov 05:30','20 Nov 09:30','20 Nov 13:30','20 Nov 17:30','20 Nov 21:30','21 Nov 01:30','21 Nov 05:30','21 Nov 09:30','21 Nov 13:30','21 Nov 17:30','21 Nov 21:30','22 Nov 01:30','22 Nov 05:30','22 Nov 09:30','22 Nov 13:30','22 Nov 17:30','22 Nov 21:30'][round(datum.value/16)]","labelAlign":"left","labelBaseline":"top","tickSize":3,"labelPadding":-2,"labelOverlap":false,"labelFlush":false,"labelBound":false}},
  "y":{"field":"h","type":"quantitative","title":null,"scale":{"domain":[-0.002922,0.00155],"nice":false,"zero":false},"axis":{"orient":"right","values":[0.001395,0,-0.002644],"tickCount":10,"labelExpr":"datum.value == 0 ? '0.00' : format(datum.value, '.6f')","tickSize":3,"labelPadding":1,"labelFontSize":8.5,"labelOverlap":false,"labelFlush":false}},
  "y2":{"datum":0},
  "color":{"condition":{"test":"datum.h > 0","value":"#ee0000"},"value":"#117711"}}},
{"data":{"name":"mline"},"mark":{"type":"line","color":"#ee22ee","strokeWidth":2,"clip":true},
 "encoding":{"x":{"field":"i","type":"quantitative","scale":{"domain":[0,275],"nice":false,"zero":false},"axis":{"orient":"top","labels":false,"ticks":false,"domain":true}},"y":{"field":"v","type":"quantitative","title":null,"scale":{"domain":[-0.002922,0.00155],"nice":false,"zero":false}}}},
{"data":{"name":"sline"},"mark":{"type":"line","color":"#ffff00","strokeWidth":2,"clip":true},
 "encoding":{"x":{"field":"i","type":"quantitative","scale":{"domain":[0,275],"nice":false,"zero":false},"axis":null},"y":{"field":"v","type":"quantitative","title":null,"scale":{"domain":[-0.002922,0.00155],"nice":false,"zero":false}}}}
],
"resolve":{"axis":{"x":"independent"}}
}
]
}
